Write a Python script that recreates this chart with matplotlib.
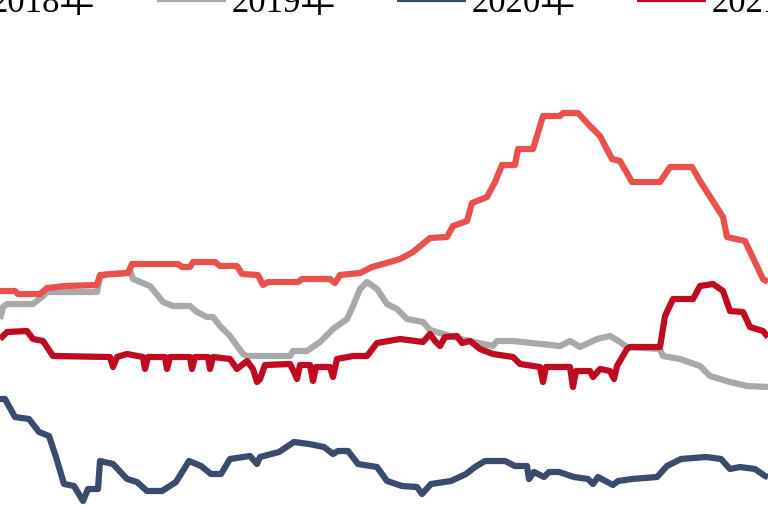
import matplotlib
matplotlib.use("Agg")
from matplotlib import pyplot as plt

plt.rcParams['font.family'] = ['Liberation Serif', 'Noto Sans CJK SC']

# values (x: day in window, y: price index)
x_2018 = [0, 15, 18, 40, 47, 65, 97, 100, 128, 132, 178, 182, 190, 193, 215, 220, 237, 242, 258, 263,
          268, 298, 302, 330, 335, 340, 360, 372, 390, 400, 413, 430, 447, 453, 467, 472, 487, 495,
          502, 515, 518, 533, 543, 560, 563, 578, 590, 600, 612, 620, 632, 660, 670, 692, 700, 723,
          727, 745, 763, 768]
y_2018 = [218, 218, 215, 215, 221, 223, 224, 234, 236, 245, 245, 242, 242, 247, 247, 243, 243, 235, 234, 224,
          227, 227, 230, 230, 226, 234, 236, 242, 247, 250, 257, 271, 272, 283, 288, 306, 312, 327,
          344, 344, 360, 360, 393, 393, 396, 396, 383, 373, 350, 348, 327, 327, 342, 342, 328, 292,
          272, 268, 230, 227]

x_2019 = [0, 3, 7, 33, 43, 47, 97, 100, 107, 127, 130, 133, 150, 163, 173, 190, 197, 207, 213, 220,
          230, 243, 247, 290, 293, 307, 320, 333, 347, 353, 360, 367, 377, 387, 397, 407, 423, 430,
          460, 493, 497, 513, 560, 570, 580, 597, 610, 620, 627, 660, 663, 680, 700, 710, 730, 747, 768]
y_2019 = [190, 202, 205, 205, 213, 217, 217, 232, 235, 236, 239, 230, 223, 207, 203, 203, 197, 192, 192, 183,
          173, 155, 153, 153, 158, 158, 167, 180, 190, 203, 220, 227, 220, 205, 200, 190, 187, 179,
          170, 163, 168, 168, 163, 168, 162, 170, 173, 167, 162, 160, 153, 150, 143, 133, 127, 123, 122]

x_2020 = [0, 5, 15, 29, 39, 49, 56, 64, 74, 83, 88, 98, 100, 113, 127, 137, 147, 162, 176, 189,
          201, 211, 221, 230, 250, 257, 260, 279, 294, 309, 324, 333, 338, 348, 358, 377, 387, 402,
          417, 422, 431, 451, 466, 475, 485, 505, 515, 527, 529, 534, 544, 549, 559, 574, 588, 593,
          598, 613, 618, 632, 657, 667, 681, 706, 721, 730, 740, 755, 765, 768]
y_2020 = [110, 110, 92, 90, 77, 73, 52, 25, 23, 8, 20, 20, 48, 45, 30, 27, 18, 18, 27, 48,
          43, 35, 35, 50, 53, 45, 52, 57, 67, 65, 62, 55, 58, 58, 45, 42, 28, 23,
          22, 15, 25, 28, 35, 42, 48, 48, 43, 43, 30, 37, 32, 37, 37, 32, 30, 25,
          32, 24, 28, 30, 32, 43, 50, 52, 50, 40, 42, 40, 33, 32]

x_2021 = [0, 7, 27, 33, 43, 53, 110, 113, 117, 127, 143, 145, 148, 165, 167, 170, 190, 192, 195, 208,
          210, 213, 230, 237, 247, 253, 257, 260, 265, 290, 295, 297, 300, 310, 313, 316, 330, 333,
          337, 353, 367, 377, 400, 423, 430, 435, 440, 445, 457, 462, 470, 480, 493, 513, 520, 540,
          543, 546, 570, 573, 576, 590, 593, 600, 610, 614, 617, 627, 630, 660, 665, 673, 693, 700,
          713, 723, 730, 743, 750, 763, 768]
y_2021 = [170, 177, 178, 170, 168, 153, 152, 142, 152, 155, 152, 140, 152, 152, 140, 152, 152, 140, 152, 152,
          140, 152, 150, 140, 148, 140, 127, 130, 144, 145, 135, 130, 144, 144, 128, 142, 142, 132,
          150, 153, 153, 166, 170, 167, 175, 168, 163, 172, 173, 166, 168, 160, 155, 152, 145, 142,
          127, 142, 142, 122, 138, 138, 132, 140, 138, 130, 143, 160, 162, 162, 193, 210, 210, 223,
          225, 218, 198, 197, 182, 178, 172]

series = [
    ("2018年", x_2018, y_2018, "#E8514C", 2),
    ("2019年", x_2019, y_2019, "#A9A9A9", 1),
    ("2020年", x_2020, y_2020, "#3B4B6D", 2),
    ("2021年", x_2021, y_2021, "#C00A22", 3),
]

fig = plt.figure(figsize=(7.68, 5.1), dpi=100)
ax = fig.add_axes([0, 0, 1, 1])

handles = []
for label, xs, ys, color, z in series:
    line, = ax.plot(xs, ys, color=color, linewidth=4.5, label=label, zorder=z,
                    solid_joinstyle='round', solid_capstyle='butt')
    handles.append(line)

ax.set_xlim(0, 768)
ax.set_ylim(0, 510)
ax.axis('off')

# legend sits partly above the top edge, as in the cropped original
ax.legend(handles=handles, loc='upper left', bbox_to_anchor=(-0.109, 1.025),
          ncol=4, frameon=False, fontsize=25, handlelength=2.0, handletextpad=0.15,
          columnspacing=1.77, borderpad=0, borderaxespad=0)

fig.savefig("out.png", dpi=100)
